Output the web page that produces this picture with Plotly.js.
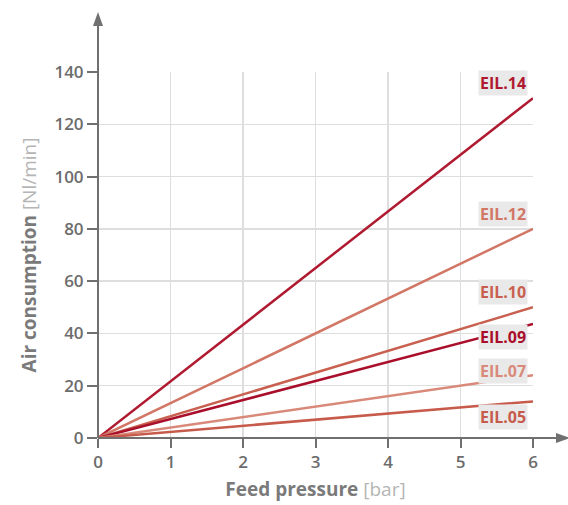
<!DOCTYPE html>
<html><head><meta charset="utf-8">
<script src="https://cdn.plot.ly/plotly-3.0.1.min.js"></script>
<style>body{margin:0;background:#fff}#c{width:568px;height:505px}</style>
</head><body><div id="c"></div>
<script>
const pressure = [0, 6];
const series = ["EIL.14", "EIL.12", "EIL.10", "EIL.09", "EIL.07", "EIL.05"];
const consumptionAt6 = [130, 80, 50, 43.6, 24, 14];
const colors = ["#b01a30", "#d27766", "#c9604f", "#a90f2a", "#d9897a", "#c75b4b"];
const labelShift = [15, 15, 15, -13, 4, -16];
const xTicks = [0, 1, 2, 3, 4, 5, 6];
const yTicks = [0, 20, 40, 60, 80, 100, 120, 140];

const traces = series.map((s, i) => ({
  x: pressure, y: [0, consumptionAt6[i]], mode: "lines", name: s,
  line: {color: colors[i], width: 2.5}, hoverinfo: "skip"
}));

const annotations = series.map((s, i) => ({
  x: 6, y: consumptionAt6[i], xref: "x", yref: "y", xanchor: "right", yanchor: "middle",
  xshift: -5, yshift: labelShift[i], showarrow: false,
  text: "<b>" + s + "</b>", bgcolor: "#e9e9e9", borderpad: 1,
  font: {family: "Open Sans", size: 16, color: colors[i]}
}));

const gray = "#707070";
const W = 435, H = 366;
const xEnd = (570 - 98) / W, yEnd = (438 - 12) / H;
const shapes = [
  {type: "line", xref: "paper", yref: "paper", x0: 0, y0: 0, x1: xEnd - 0.02, y1: 0, line: {color: gray, width: 2}, layer: "above"},
  {type: "line", xref: "paper", yref: "paper", x0: 0, y0: 0, x1: 0, y1: yEnd - 0.03, line: {color: gray, width: 2}, layer: "above"},
  {type: "path", xref: "paper", yref: "paper",
   path: `M ${xEnd} 0 L ${xEnd - 14/W} ${5/H} L ${xEnd - 14/W} ${-5/H} Z`, fillcolor: gray, line: {width: 0}, layer: "above"},
  {type: "path", xref: "paper", yref: "paper",
   path: `M 0 ${yEnd} L ${5/W} ${yEnd - 14/H} L ${-5/W} ${yEnd - 14/H} Z`, fillcolor: gray, line: {width: 0}, layer: "above"}
];

const layout = {
  width: 568, height: 505,
  margin: {l: 98, r: 35, t: 72, b: 67},
  paper_bgcolor: "#fff", plot_bgcolor: "#fff",
  showlegend: false,
  font: {family: "Open Sans", color: "#777"},
  xaxis: {
    range: [0, 6], tickvals: xTicks, ticktext: xTicks.map(String),
    showgrid: true, gridcolor: "#dedede", gridwidth: 1.5, zeroline: false,
    showline: false, ticks: "outside", ticklen: 9, tickwidth: 2, tickcolor: gray,
    tickfont: {size: 17, color: "#6c6c6c", family: "Open Sans", weight: 600},
    title: {text: "<b>Feed pressure</b> <span style='color:#b5b5b5;font-weight:normal'>[bar]</span>",
      font: {size: 19, color: "#7a7a7a", family: "Open Sans"}, standoff: 10},
    fixedrange: true
  },
  yaxis: {
    range: [0, 140], tickvals: yTicks, ticktext: yTicks.map(String),
    showgrid: true, gridcolor: "#dedede", gridwidth: 1.5, zeroline: false,
    showline: false, ticks: "outside", ticklen: 10, tickwidth: 2, tickcolor: gray,
    tickfont: {size: 17, color: "#6c6c6c", family: "Open Sans", weight: 600},
    title: {text: "<b>Air consumption</b> <span style='color:#b5b5b5;font-weight:normal'>[Nl/min]</span>",
      font: {size: 19, color: "#7a7a7a", family: "Open Sans"}, standoff: 12},
    fixedrange: true
  },
  shapes: shapes,
  annotations: annotations
};

Plotly.newPlot("c", traces, layout, {displayModeBar: false, staticPlot: true});
</script>
</body></html>
